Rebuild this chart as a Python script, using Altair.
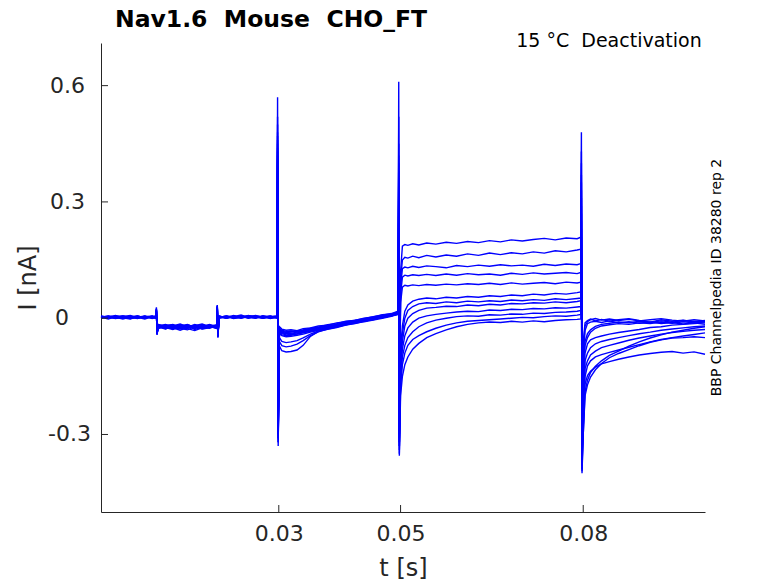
import altair as alt
import pandas as pd

# ---- text ----
TITLE = "Nav1.6\u00a0 Mouse\u00a0 CHO_FT"
SUBTITLE = "15 °C\u00a0 Deactivation"
SIDE = "BBP Channelpedia ID 38280 rep 2"
X_TITLE = "t [s]"
Y_TITLE = "I [nA]"
X_TICKS = [0.03, 0.05, 0.08]
Y_TICKS = [-0.3, 0, 0.3, 0.6]
Y_LABELS = ["-0.3", "0", "0.3", "0.6"]

# ---- sample times (ms) ----
t_ms = [0.8, 2.0, 3.2, 4.4, 5.6, 6.8, 8.0, 9.2, 9.8,
        9.9, 10.0,
        10.2, 11.4, 12.6, 13.8, 15.0, 16.2, 17.4, 18.6, 19.8,
        19.9, 20.0,
        20.2, 21.4, 22.6, 23.8, 25.0, 26.2, 27.4, 28.6, 29.7,
        29.8, 29.9,
        30.1, 30.5, 31.2, 32.0, 33.0, 34.0, 35.2, 36.5, 38.0, 39.5, 41.0, 42.5, 44.0, 45.5, 47.0, 48.5, 49.6,
        49.7, 49.8,
        50.0, 50.3, 50.7, 51.2, 52.0, 53.0, 54.3, 55.8, 57.5, 59.2, 61.0, 62.8, 64.6, 66.4, 68.2, 70.0, 71.8, 73.6, 75.4, 77.2, 79.0, 79.6,
        79.7, 79.8,
        80.0, 80.3, 80.7, 81.2, 82.0, 83.0, 84.3, 85.8, 87.5, 89.2, 91.0, 92.8, 94.6, 96.4, 98.2, 100.0]

# ---- current traces (nA) ----
I1 = [0.004, 0.001, 0.006, 0.002, -0.001, 0.003, 0.005, 0.000, 0.002,
      0.028, -0.042,
      -0.020, -0.016, -0.022, -0.018, -0.025, -0.019, -0.015, -0.021, -0.017,
      0.034, -0.050,
      0.004, 0.002, 0.007, 0.001, 0.005, 0.003, 0.000, 0.004, 0.002,
      0.570, -0.330,
      -0.022, -0.028, -0.031, -0.030, -0.032, -0.027, -0.025, -0.020, -0.018, -0.012, -0.009, -0.005, -0.001, 0.004, 0.008, 0.012, 0.018,
      0.610, -0.355,
      0.120, 0.186, 0.190, 0.188, 0.192, 0.189, 0.194, 0.191, 0.196, 0.193, 0.198, 0.195, 0.200, 0.197, 0.202, 0.199, 0.203, 0.206, 0.202, 0.207, 0.205, 0.209,
      0.480, -0.395,
      -0.060, -0.012, -0.006, -0.002, -0.007, -0.003, -0.008, -0.004, -0.001, -0.006, -0.010, -0.004, -0.008, -0.005, -0.009, -0.006]

I2 = [0.001, 0.005, 0.000, 0.004, 0.007, 0.001, 0.003, 0.006, 0.001,
      0.022, -0.038,
      -0.024, -0.019, -0.016, -0.023, -0.020, -0.027, -0.018, -0.022, -0.019,
      0.030, -0.045,
      0.001, 0.006, 0.003, 0.005, 0.000, 0.006, 0.004, 0.001, 0.005,
      0.520, -0.310,
      -0.030, -0.034, -0.036, -0.035, -0.033, -0.031, -0.028, -0.024, -0.020, -0.016, -0.011, -0.008, -0.003, 0.001, 0.006, 0.010, 0.014,
      0.520, -0.330,
      0.100, 0.150, 0.157, 0.155, 0.160, 0.156, 0.162, 0.158, 0.163, 0.160, 0.166, 0.162, 0.168, 0.164, 0.169, 0.166, 0.171, 0.168, 0.174, 0.171, 0.176, 0.178,
      0.430, -0.360,
      -0.080, -0.020, -0.009, -0.004, -0.001, -0.005, -0.002, -0.006, -0.003, -0.007, -0.004, -0.001, -0.005, -0.008, -0.004, -0.007]

I3 = [0.003, -0.002, 0.004, 0.006, 0.002, -0.001, 0.004, 0.002, 0.005,
      0.018, -0.035,
      -0.017, -0.023, -0.020, -0.015, -0.022, -0.018, -0.024, -0.016, -0.021,
      0.026, -0.040,
      0.005, 0.000, 0.004, 0.008, 0.002, 0.001, 0.006, 0.003, 0.000,
      0.480, -0.300,
      -0.026, -0.031, -0.034, -0.033, -0.035, -0.030, -0.026, -0.023, -0.017, -0.014, -0.008, -0.006, 0.000, 0.003, 0.009, 0.011, 0.016,
      0.450, -0.320,
      0.080, 0.128, 0.132, 0.130, 0.134, 0.131, 0.135, 0.133, 0.130, 0.136, 0.133, 0.137, 0.134, 0.138, 0.135, 0.137, 0.134, 0.139, 0.136, 0.140, 0.138, 0.141,
      0.400, -0.340,
      -0.100, -0.032, -0.014, -0.010, -0.008, -0.011, -0.007, -0.012, -0.009, -0.013, -0.010, -0.014, -0.011, -0.015, -0.012, -0.016]

I4 = [0.000, 0.004, 0.002, -0.002, 0.003, 0.006, 0.000, 0.003, 0.001,
      0.020, -0.040,
      -0.021, -0.026, -0.018, -0.024, -0.017, -0.023, -0.020, -0.026, -0.018,
      0.028, -0.042,
      0.002, 0.004, -0.001, 0.003, 0.006, 0.002, 0.005, -0.001, 0.003,
      0.500, -0.320,
      -0.033, -0.038, -0.040, -0.039, -0.036, -0.034, -0.030, -0.027, -0.022, -0.018, -0.013, -0.010, -0.005, -0.001, 0.004, 0.008, 0.013,
      0.420, -0.300,
      0.060, 0.106, 0.111, 0.109, 0.112, 0.110, 0.113, 0.110, 0.114, 0.111, 0.115, 0.112, 0.114, 0.111, 0.116, 0.113, 0.117, 0.114, 0.116, 0.118, 0.115, 0.118,
      0.370, -0.320,
      -0.120, -0.070, -0.050, -0.036, -0.026, -0.020, -0.017, -0.014, -0.016, -0.012, -0.014, -0.010, -0.013, -0.009, -0.012, -0.010]

I5 = [0.005, 0.002, -0.001, 0.003, 0.005, 0.001, 0.006, -0.001, 0.003,
      0.024, -0.036,
      -0.016, -0.021, -0.025, -0.019, -0.023, -0.016, -0.022, -0.019, -0.024,
      0.032, -0.046,
      0.006, 0.001, 0.003, 0.000, 0.004, 0.007, 0.002, 0.005, 0.001,
      0.460, -0.290,
      -0.028, -0.033, -0.037, -0.036, -0.034, -0.032, -0.029, -0.025, -0.021, -0.017, -0.012, -0.007, -0.004, 0.002, 0.005, 0.010, 0.015,
      0.400, -0.290,
      0.040, 0.080, 0.085, 0.083, 0.086, 0.084, 0.087, 0.085, 0.088, 0.086, 0.089, 0.087, 0.090, 0.087, 0.091, 0.088, 0.090, 0.092, 0.089, 0.093, 0.091, 0.093,
      0.350, -0.300,
      -0.130, -0.060, -0.040, -0.030, -0.021, -0.016, -0.013, -0.010, -0.012, -0.008, -0.011, -0.007, -0.010, -0.006, -0.009, -0.008]

I6 = [0.002, 0.006, 0.003, 0.000, 0.004, 0.002, -0.002, 0.004, 0.006,
      0.016, -0.033,
      -0.022, -0.018, -0.024, -0.028, -0.021, -0.025, -0.019, -0.023, -0.020,
      0.024, -0.038,
      0.003, 0.005, 0.001, 0.004, 0.002, 0.000, 0.005, 0.002, 0.004,
      0.440, -0.280,
      -0.035, -0.040, -0.043, -0.042, -0.040, -0.037, -0.033, -0.029, -0.025, -0.020, -0.015, -0.012, -0.007, -0.003, 0.002, 0.006, 0.011,
      0.380, -0.280,
      -0.080, -0.020, 0.018, 0.034, 0.044, 0.049, 0.052, 0.050, 0.054, 0.052, 0.056, 0.054, 0.058, 0.056, 0.060, 0.058, 0.062, 0.060, 0.064, 0.062, 0.066, 0.068,
      0.330, -0.340,
      -0.200, -0.090, -0.066, -0.056, -0.050, -0.046, -0.041, -0.037, -0.033, -0.029, -0.024, -0.022, -0.018, -0.016, -0.014, -0.012]

I7 = [0.004, 0.000, 0.005, 0.003, 0.001, 0.005, 0.002, 0.004, 0.000,
      0.019, -0.037,
      -0.019, -0.027, -0.021, -0.017, -0.026, -0.020, -0.025, -0.018, -0.022,
      0.027, -0.041,
      0.000, 0.004, 0.002, 0.006, 0.001, 0.004, 0.003, 0.006, 0.001,
      0.420, -0.270,
      -0.031, -0.036, -0.039, -0.041, -0.038, -0.035, -0.032, -0.027, -0.023, -0.019, -0.014, -0.009, -0.006, -0.001, 0.003, 0.008, 0.012,
      0.360, -0.300,
      -0.100, -0.040, 0.000, 0.020, 0.030, 0.037, 0.040, 0.038, 0.042, 0.040, 0.044, 0.042, 0.045, 0.043, 0.047, 0.045, 0.048, 0.046, 0.050, 0.048, 0.051, 0.052,
      0.310, -0.350,
      -0.220, -0.110, -0.090, -0.076, -0.066, -0.060, -0.055, -0.050, -0.045, -0.040, -0.036, -0.031, -0.028, -0.025, -0.022, -0.020]

I8 = [0.001, 0.003, 0.007, 0.001, -0.002, 0.004, 0.003, 0.001, 0.004,
      0.021, -0.039,
      -0.025, -0.020, -0.017, -0.026, -0.030, -0.022, -0.027, -0.024, -0.021,
      0.029, -0.044,
      0.004, 0.001, 0.005, 0.002, 0.007, 0.003, 0.001, 0.004, 0.006,
      0.400, -0.260,
      -0.038, -0.043, -0.045, -0.044, -0.041, -0.038, -0.034, -0.030, -0.026, -0.021, -0.017, -0.011, -0.008, -0.002, 0.001, 0.007, 0.010,
      0.340, -0.310,
      -0.120, -0.060, -0.020, 0.000, 0.012, 0.020, 0.026, 0.028, 0.031, 0.030, 0.034, 0.032, 0.036, 0.034, 0.038, 0.037, 0.040, 0.039, 0.042, 0.040, 0.043, 0.045,
      0.290, -0.360,
      -0.240, -0.130, -0.110, -0.095, -0.085, -0.076, -0.070, -0.064, -0.057, -0.051, -0.046, -0.041, -0.037, -0.034, -0.031, -0.029]

I9 = [0.003, 0.005, 0.001, 0.004, 0.002, 0.006, 0.001, 0.005, 0.002,
      0.017, -0.034,
      -0.018, -0.022, -0.027, -0.020, -0.016, -0.024, -0.021, -0.017, -0.025,
      0.025, -0.039,
      0.002, 0.006, 0.000, 0.003, 0.005, 0.001, 0.006, 0.002, 0.004,
      0.430, -0.300,
      -0.040, -0.045, -0.048, -0.047, -0.044, -0.041, -0.036, -0.031, -0.026, -0.022, -0.016, -0.012, -0.007, -0.004, 0.003, 0.006, 0.012,
      0.320, -0.320,
      -0.140, -0.080, -0.045, -0.025, -0.010, 0.000, 0.006, 0.010, 0.013, 0.016, 0.018, 0.017, 0.021, 0.020, 0.023, 0.022, 0.025, 0.024, 0.027, 0.026, 0.029, 0.030,
      0.270, -0.370,
      -0.260, -0.150, -0.123, -0.110, -0.100, -0.094, -0.088, -0.082, -0.075, -0.068, -0.061, -0.055, -0.050, -0.046, -0.042, -0.038]

I10 = [0.006, 0.002, 0.004, 0.000, 0.005, 0.003, 0.004, 0.002, 0.000,
       0.023, -0.041,
       -0.023, -0.028, -0.020, -0.025, -0.019, -0.029, -0.023, -0.020, -0.026,
       0.031, -0.048,
       0.003, 0.000, 0.006, 0.002, 0.003, 0.005, 0.000, 0.003, 0.005,
       0.410, -0.290,
       -0.050, -0.060, -0.063, -0.061, -0.058, -0.051, -0.041, -0.033, -0.027, -0.021, -0.016, -0.011, -0.006, -0.002, 0.004, 0.009, 0.013,
       0.300, -0.330,
       -0.160, -0.100, -0.070, -0.050, -0.035, -0.022, -0.012, -0.005, 0.000, 0.004, 0.006, 0.005, 0.009, 0.008, 0.011, 0.010, 0.013, 0.012, 0.015, 0.016, 0.018, 0.020,
       0.250, -0.380,
       -0.280, -0.170, -0.148, -0.137, -0.126, -0.118, -0.112, -0.106, -0.100, -0.095, -0.091, -0.088, -0.086, -0.090, -0.087, -0.093]

I11 = [0.002, 0.004, 0.000, 0.005, 0.003, 0.000, 0.005, 0.003, 0.004,
       0.020, -0.038,
       -0.027, -0.021, -0.025, -0.031, -0.024, -0.020, -0.028, -0.025, -0.022,
       0.028, -0.043,
       0.005, 0.002, 0.004, 0.001, 0.006, 0.003, 0.004, 0.000, 0.003,
       0.450, -0.310,
       -0.060, -0.071, -0.074, -0.072, -0.067, -0.058, -0.045, -0.035, -0.028, -0.023, -0.017, -0.013, -0.008, -0.003, 0.002, 0.007, 0.011,
       0.280, -0.340,
       -0.180, -0.120, -0.090, -0.070, -0.055, -0.045, -0.035, -0.026, -0.018, -0.012, -0.008, -0.006, -0.004, -0.002, 0.000, 0.002, 0.001, 0.004, 0.006, 0.005, 0.008, 0.010,
       0.230, -0.390,
       -0.300, -0.190, -0.160, -0.140, -0.124, -0.110, -0.096, -0.085, -0.072, -0.061, -0.051, -0.043, -0.036, -0.031, -0.026, -0.022]

I12 = [0.004, 0.001, 0.003, 0.006, 0.000, 0.004, 0.002, 0.005, 0.003,
       0.025, -0.043,
       -0.020, -0.024, -0.029, -0.022, -0.027, -0.032, -0.025, -0.021, -0.027,
       0.033, -0.050,
       0.001, 0.004, 0.002, 0.005, 0.001, 0.004, 0.002, 0.005, 0.002,
       0.470, -0.320,
       -0.072, -0.084, -0.087, -0.086, -0.082, -0.070, -0.047, -0.034, -0.029, -0.024, -0.018, -0.014, -0.009, -0.005, 0.000, 0.005, 0.010,
       0.260, -0.350,
       -0.200, -0.150, -0.120, -0.100, -0.080, -0.065, -0.050, -0.040, -0.030, -0.022, -0.016, -0.012, -0.010, -0.011, -0.008, -0.010, -0.007, -0.009, -0.006, -0.004, -0.003, -0.002,
       0.210, -0.400,
       -0.300, -0.200, -0.172, -0.152, -0.133, -0.117, -0.102, -0.091, -0.081, -0.071, -0.062, -0.056, -0.051, -0.050, -0.048, -0.050]

traces = [I1, I2, I3, I4, I5, I6, I7, I8, I9, I10, I11, I12]

rows = []
for k, vals in enumerate(traces):
    assert len(vals) == len(t_ms), (k + 1, len(vals), len(t_ms))
    for tm, v in zip(t_ms, vals):
        rows.append({"t": tm / 1000.0, "I": v, "sweep": k + 1})
df = pd.DataFrame(rows)

tick_x_df = pd.DataFrame({"t": X_TICKS})
tick_y_df = pd.DataFrame({"I": Y_TICKS, "lab": Y_LABELS})

FONT = "DejaVu Sans"
AX = "#262626"
W, H = 604, 469

x_scale = alt.Scale(domain=[0.0008, 0.1], nice=False, zero=False)
y_scale = alt.Scale(domain=[-0.5, 0.71], nice=False, zero=False)

x_axis = alt.Axis(values=X_TICKS, format=".2f", title=X_TITLE, grid=False,
                  tickSize=0, labelPadding=11, labelFontSize=22, labelFont=FONT,
                  labelColor=AX, domainColor=AX, domainWidth=1,
                  titleFontSize=24, titleFont=FONT, titleFontWeight="normal",
                  titleColor=AX, titleY=63, titleBaseline="alphabetic",
                  labelFlush=False)
# y labels are drawn by a text layer (MATLAB pads shorter labels on the right)
y_axis = alt.Axis(values=Y_TICKS, labels=False, title=Y_TITLE, grid=False,
                  tickSize=0, domainColor=AX, domainWidth=1,
                  titleFontSize=24, titleFont=FONT, titleFontWeight="normal",
                  titleColor=AX, titleAngle=270, titleX=-73, titleY=H / 2,
                  titleBaseline="middle")

lines = alt.Chart(df).mark_line(color="#0000ff", strokeWidth=1.4).encode(
    x=alt.X("t:Q", scale=x_scale, axis=x_axis),
    y=alt.Y("I:Q", scale=y_scale, axis=y_axis),
    detail="sweep:N",
)

# inward ticks (MATLAB style)
yticks = alt.Chart(tick_y_df).mark_rule(color=AX, strokeWidth=1).encode(
    y=alt.Y("I:Q", scale=y_scale, axis=y_axis),
    x=alt.value(0), x2=alt.value(7),
)
xticks = alt.Chart(tick_x_df).mark_rule(color=AX, strokeWidth=1).encode(
    x=alt.X("t:Q", scale=x_scale, axis=x_axis),
    y=alt.value(H), y2=alt.value(H - 7),
)

def ylabels(test, dx):
    return alt.Chart(tick_y_df).transform_filter(test).mark_text(
        align="right", baseline="middle", fontSize=22, font=FONT, color=AX, dx=dx
    ).encode(y=alt.Y("I:Q", scale=y_scale, axis=y_axis), x=alt.value(-10), text="lab:N")

yl_neg = ylabels("datum.I < 0", 0)
yl_pos = ylabels("datum.I > 0", -6)
yl_zero = ylabels("datum.I == 0", -22)

title = alt.Chart(pd.DataFrame({"s": [TITLE]})).mark_text(
    align="left", baseline="alphabetic", fontSize=23.5, fontWeight="bold", font=FONT, color="black"
).encode(x=alt.value(14), y=alt.value(-16.3), text="s:N")

subtitle = alt.Chart(pd.DataFrame({"s": [SUBTITLE]})).mark_text(
    align="right", baseline="alphabetic", fontSize=19, font=FONT, color="black"
).encode(x=alt.value(600.7), y=alt.value(4.3), text="s:N")

side = alt.Chart(pd.DataFrame({"s": [SIDE]})).mark_text(
    align="center", baseline="middle", fontSize=14, font=FONT, color="black", angle=270
).encode(x=alt.value(616), y=alt.value(234.5), text="s:N")

chart = alt.layer(lines, yticks, xticks, yl_neg, yl_pos, yl_zero, title, subtitle, side).properties(
    width=W, height=H,
    autosize=alt.AutoSizeParams(type="none"),
    padding={"left": 93, "top": 35, "right": 65, "bottom": 72},
).configure(font=FONT).configure_view(strokeWidth=0)

chart.save("out.html", embed_options={"renderer": "svg", "actions": False})
